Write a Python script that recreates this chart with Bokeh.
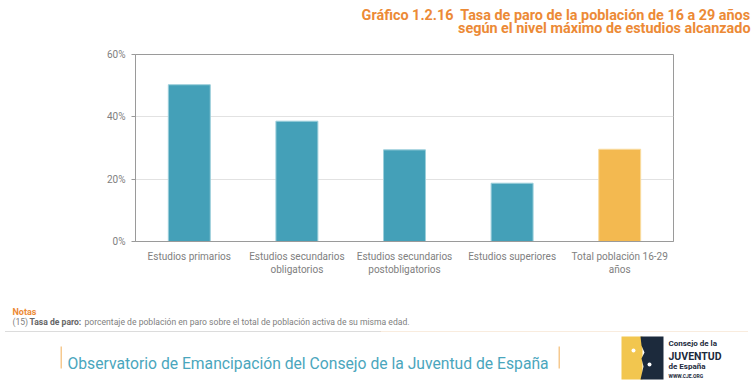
from bokeh.plotting import figure
from bokeh.layouts import column
from bokeh.models import (FactorRange, Range1d, FixedTicker, PrintfTickFormatter,
                          ColumnDataSource)
from bokeh.core.properties import value
from bokeh.embed import file_html
from bokeh.resources import INLINE

categories = ["Estudios primarios",
              "Estudios secundarios\nobligatorios",
              "Estudios secundarios\npostobligatorios",
              "Estudios superiores",
              "Total población 16-29\naños"]
values = [50.3, 38.6, 29.4, 18.7, 29.6]
bar_colors = ["#44a0b8", "#44a0b8", "#44a0b8", "#44a0b8", "#f3b950"]
edge_colors = ["#9ccfdb", "#9ccfdb", "#9ccfdb", "#9ccfdb", "#f9dca0"]
y_ticks = [0, 20, 40, 60]

title_lines = ["Gráfico 1.2.16\u00a0 Tasa de paro de la población de 16 a 29 años",
               "según el nivel máximo de estudios alcanzado"]
note_head = "Notas"
note_ref = "(15)"
note_term = "Tasa de paro:"
note_text = "porcentaje de población en paro sobre el total de población activa de su misma edad."
footer_text = "Observatorio de Emancipación del Consejo de la Juventud de España"
logo_lines = ["Consejo de la", "JUVENTUD", "de España", "WWW.CJE.ORG"]

FONT = "Roboto"
GRAY = "#808080"
ORANGE = "#ec8a36"
TEAL = "#4aa6bd"
NAVY = "#1c2a3c"
W = 754
TOP_H = 46
MAIN_H = 244
BOT_H = 383 - TOP_H - MAIN_H


def blank(h, y0):
    f = figure(width=W, height=h, x_range=Range1d(0, W), y_range=Range1d(y0 + h, y0),
               output_backend="svg", toolbar_location=None,
               x_axis_location=None, y_axis_location=None,
               min_border=0, outline_line_color=None, frame_align=False)
    f.grid.visible = False
    return f


def txt(f, s, x, y, size, color, bold=False, align="left"):
    f.text(x=[x], y=[y], text=[s], text_font=value(FONT), text_font_size=size,
           text_color=color, text_font_style="bold" if bold else "normal",
           text_align=align, text_baseline="alphabetic")


# ---- title panel ----
top = blank(TOP_H, 0)
txt(top, title_lines[0], 750, 15, "14.4px", ORANGE, bold=True, align="right")
txt(top, title_lines[1], 750, 28, "14.4px", ORANGE, bold=True, align="right")

# ---- main chart ----
p = figure(x_range=FactorRange(*categories, range_padding=0),
           y_range=(0, 60), width=W, height=MAIN_H,
           output_backend="svg", toolbar_location=None, frame_align=False,
           min_border_left=135, min_border_right=W - 673,
           min_border_top=54 - TOP_H, min_border_bottom=TOP_H + MAIN_H - 241)

src = ColumnDataSource(dict(cat=categories, val=values, fc=bar_colors, lc=edge_colors))
p.vbar(x="cat", top="val", width=0.39, source=src, fill_color="fc",
       line_color="lc", line_width=1)

p.outline_line_color = "#9a9a9a"
p.xgrid.grid_line_color = None
p.ygrid.grid_line_color = "#e2e2e2"
p.ygrid.ticker = FixedTicker(ticks=[20, 40])

p.yaxis.ticker = FixedTicker(ticks=y_ticks)
p.yaxis.formatter = PrintfTickFormatter(format="%d%%")
p.yaxis.axis_line_color = "#9a9a9a"
p.yaxis.major_tick_line_color = "#9a9a9a"
p.yaxis.major_tick_out = 4
p.yaxis.major_tick_in = 0
p.yaxis.minor_tick_line_color = None
p.yaxis.major_label_text_font = FONT
p.yaxis.major_label_text_font_size = "10px"
p.yaxis.major_label_text_color = GRAY
p.yaxis.major_label_standoff = 6

p.xaxis.axis_line_color = "#9a9a9a"
p.xaxis.major_tick_line_color = None
p.xaxis.minor_tick_line_color = None
p.xaxis.major_label_text_font = FONT
p.xaxis.major_label_text_font_size = "10px"
p.xaxis.major_label_text_color = GRAY
p.xaxis.major_label_standoff = 3

# ---- bottom panel (notes, footer, logo) ----
y0 = TOP_H + MAIN_H
bot = blank(BOT_H, y0)
txt(bot, note_head, 12, 311, "9px", ORANGE, bold=True)
txt(bot, note_ref, 12, 321, "8.6px", GRAY)
txt(bot, note_term, 29, 321, "8.6px", "#666666", bold=True)
txt(bot, note_text, 84, 321, "8.6px", GRAY)

bot.line(x=[5, 380], y=[331, 331], line_color="#b9b9b9", line_dash="1 1", line_width=1)
bot.line(x=[380, 748], y=[331, 331], line_color="#f3d9bd", line_dash="1 1", line_width=1)

bot.quad(left=[60, 558], right=[61.5, 559.5], top=[346, 346], bottom=[368, 368],
         fill_color="#f6c98f", line_alpha=0)
txt(bot, footer_text, 67, 363, "15.7px", TEAL)

bot.quad(left=[621], right=[642], top=[336], bottom=[379], fill_color="#f2c64f", line_alpha=0)
bot.patch(x=[663, 640, 641, 644, 641, 643, 640, 663],
          y=[336, 336, 345, 352, 358, 366, 379, 379], fill_color=NAVY, line_alpha=0)
bot.scatter(x=[633, 649], y=[350, 364], size=4, fill_color="white", line_alpha=0)
txt(bot, logo_lines[0], 668, 343, "8px", NAVY, bold=True)
txt(bot, logo_lines[1], 668, 356, "10.5px", NAVY, bold=True)
txt(bot, logo_lines[2], 668, 366, "8px", NAVY, bold=True)
txt(bot, logo_lines[3], 668, 375, "5px", NAVY, bold=True)

layout = column(top, p, bot, spacing=0)
open("out.html", "w").write(file_html(layout, INLINE))
